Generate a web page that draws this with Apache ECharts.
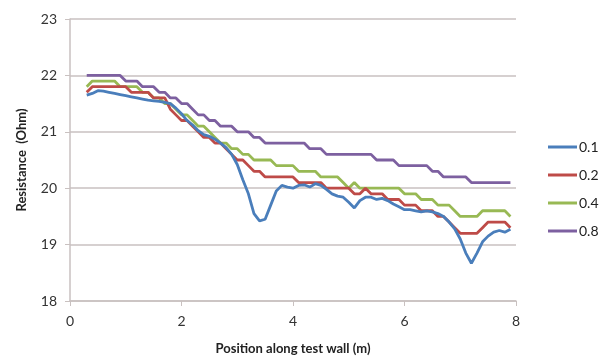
<!DOCTYPE html>
<html>
<head>
<meta charset="utf-8">
<script src="https://cdn.jsdelivr.net/npm/echarts@6/dist/echarts.min.js"></script>
<style>
html, body { margin: 0; padding: 0; background: #fff; }
#main { width: 600px; height: 361px; }
</style>
</head>
<body>
<div id="main"></div>
<script>
// positions along the wall (m)
var xPos = [0.3, 0.4, 0.5, 0.6, 0.7, 0.8, 0.9, 1.0, 1.1, 1.2, 1.3, 1.4, 1.5, 1.6, 1.7, 1.8, 1.9,
	2.0, 2.1, 2.2, 2.3, 2.4, 2.5, 2.6, 2.7, 2.8, 2.9, 3.0, 3.1, 3.2, 3.3, 3.4, 3.5, 3.6, 3.7, 3.8, 3.9,
	4.0, 4.1, 4.2, 4.3, 4.4, 4.5, 4.6, 4.7, 4.8, 4.9, 5.0, 5.1, 5.2, 5.3, 5.4, 5.5, 5.6, 5.7, 5.8, 5.9,
	6.0, 6.1, 6.2, 6.3, 6.4, 6.5, 6.6, 6.7, 6.8, 6.9, 7.0, 7.1, 7.2, 7.3, 7.4, 7.5, 7.6, 7.7, 7.8, 7.9];

var seriesNames = ['0.1', '0.2', '0.4', '0.8'];

var r01 = [21.65, 21.68, 21.73, 21.72, 21.70, 21.68, 21.66, 21.64, 21.62, 21.60, 21.58, 21.56, 21.55, 21.54, 21.52, 21.50, 21.42,
	21.32, 21.20, 21.12, 21.02, 20.95, 20.92, 20.87, 20.80, 20.72, 20.60, 20.42, 20.15, 19.90, 19.55, 19.42, 19.45, 19.70, 19.95, 20.05, 20.02,
	20.00, 20.05, 20.06, 20.02, 20.08, 20.05, 19.98, 19.90, 19.86, 19.84, 19.75, 19.65, 19.78, 19.84, 19.84, 19.80, 19.82, 19.78, 19.72, 19.67,
	19.62, 19.62, 19.60, 19.58, 19.60, 19.58, 19.55, 19.50, 19.40, 19.28, 19.10, 18.85, 18.67, 18.85, 19.05, 19.15, 19.22, 19.25, 19.22, 19.27];

var r02 = [21.7, 21.8, 21.8, 21.8, 21.8, 21.8, 21.8, 21.8, 21.7, 21.7, 21.7, 21.7, 21.6, 21.6, 21.6, 21.4, 21.3,
	21.2, 21.2, 21.1, 21.0, 20.9, 20.9, 20.8, 20.8, 20.7, 20.6, 20.5, 20.5, 20.4, 20.3, 20.3, 20.2, 20.2, 20.2, 20.2, 20.2,
	20.2, 20.1, 20.1, 20.1, 20.1, 20.1, 20.0, 20.0, 20.0, 20.0, 20.0, 19.9, 19.9, 20.0, 19.9, 19.9, 19.9, 19.8, 19.8, 19.8,
	19.7, 19.7, 19.7, 19.6, 19.6, 19.6, 19.5, 19.5, 19.4, 19.3, 19.2, 19.2, 19.2, 19.2, 19.3, 19.4, 19.4, 19.4, 19.4, 19.3];

var r04 = [21.8, 21.9, 21.9, 21.9, 21.9, 21.9, 21.8, 21.8, 21.8, 21.8, 21.7, 21.7, 21.6, 21.6, 21.5, 21.5, 21.4,
	21.3, 21.3, 21.2, 21.1, 21.1, 21.0, 20.9, 20.8, 20.8, 20.7, 20.7, 20.6, 20.6, 20.5, 20.5, 20.5, 20.5, 20.4, 20.4, 20.4,
	20.4, 20.3, 20.3, 20.3, 20.3, 20.2, 20.2, 20.2, 20.2, 20.1, 20.0, 20.1, 20.0, 20.0, 20.0, 20.0, 20.0, 20.0, 20.0, 20.0,
	19.9, 19.9, 19.9, 19.8, 19.8, 19.8, 19.7, 19.7, 19.7, 19.6, 19.5, 19.5, 19.5, 19.5, 19.6, 19.6, 19.6, 19.6, 19.6, 19.5];

var r08 = [22.0, 22.0, 22.0, 22.0, 22.0, 22.0, 22.0, 21.9, 21.9, 21.9, 21.8, 21.8, 21.8, 21.7, 21.7, 21.6, 21.6,
	21.5, 21.5, 21.4, 21.3, 21.3, 21.2, 21.2, 21.1, 21.1, 21.1, 21.0, 21.0, 21.0, 20.9, 20.9, 20.8, 20.8, 20.8, 20.8, 20.8,
	20.8, 20.8, 20.8, 20.7, 20.7, 20.7, 20.6, 20.6, 20.6, 20.6, 20.6, 20.6, 20.6, 20.6, 20.6, 20.5, 20.5, 20.5, 20.5, 20.4,
	20.4, 20.4, 20.4, 20.4, 20.4, 20.3, 20.3, 20.2, 20.2, 20.2, 20.2, 20.2, 20.1, 20.1, 20.1, 20.1, 20.1, 20.1, 20.1, 20.1];

var colors = ['#4a7ebb', '#be4b48', '#98b954', '#7d60a0'];

var FONT = 'Lato, "Open Sans", sans-serif';
var gridColor = '#c9c1c0';

function pairs(ys) {
	var out = [];
	for (var i = 0; i < xPos.length; i++) {
		out.push([xPos[i], ys[i]]);
	}
	return out;
}

var allData = [r01, r02, r04, r08];
var series = [];
for (var s = 0; s < seriesNames.length; s++) {
	series.push({
		name : seriesNames[s],
		type : 'line',
		data : pairs(allData[s]),
		showSymbol : false,
		symbol : 'none',
		lineStyle : { width : 2.8, color : colors[s] },
		itemStyle : { color : colors[s] },
		z : 2 + (3 - s)
	});
}

var chart = echarts.init(document.getElementById('main'));
chart.setOption({
	animation : false,
	color : colors,
	grid : { left : 70, right : 84, top : 19, bottom : 60 },
	legend : {
		orient : 'vertical',
		left : 543,
		top : 135,
		icon : 'rect',
		itemWidth : 29,
		itemHeight : 3,
		itemGap : 14,
		textStyle : { fontFamily : FONT, fontSize : 14, color : '#222', padding : [0, 0, 0, -3] },
		data : seriesNames
	},
	xAxis : {
		type : 'value',
		min : 0,
		max : 8,
		interval : 2,
		name : 'Position along test wall (m)',
		nameLocation : 'middle',
		nameGap : 41,
		nameTextStyle : { fontFamily : FONT, fontSize : 13, fontWeight : 'bold', color : '#222' },
		axisLine : { show : true, lineStyle : { color : gridColor, width : 1.5 } },
		axisTick : { show : true, length : 5, lineStyle : { color : gridColor } },
		axisLabel : { fontFamily : FONT, fontSize : 14, color : '#333', margin : 13 },
		splitLine : { show : false }
	},
	yAxis : {
		type : 'value',
		min : 18,
		max : 23,
		interval : 1,
		name : 'Resistance  (Ohm)',
		nameLocation : 'middle',
		nameGap : 42,
		nameTextStyle : { fontFamily : FONT, fontSize : 13, fontWeight : 'bold', color : '#222' },
		axisLine : { show : true, lineStyle : { color : gridColor, width : 1.5 } },
		axisTick : { show : true, length : 5, lineStyle : { color : gridColor } },
		axisLabel : { fontFamily : FONT, fontSize : 14, color : '#333', margin : 13 },
		splitLine : { show : true, lineStyle : { color : gridColor, width : 1.5 } }
	},
	series : series
});
</script>
</body>
</html>
